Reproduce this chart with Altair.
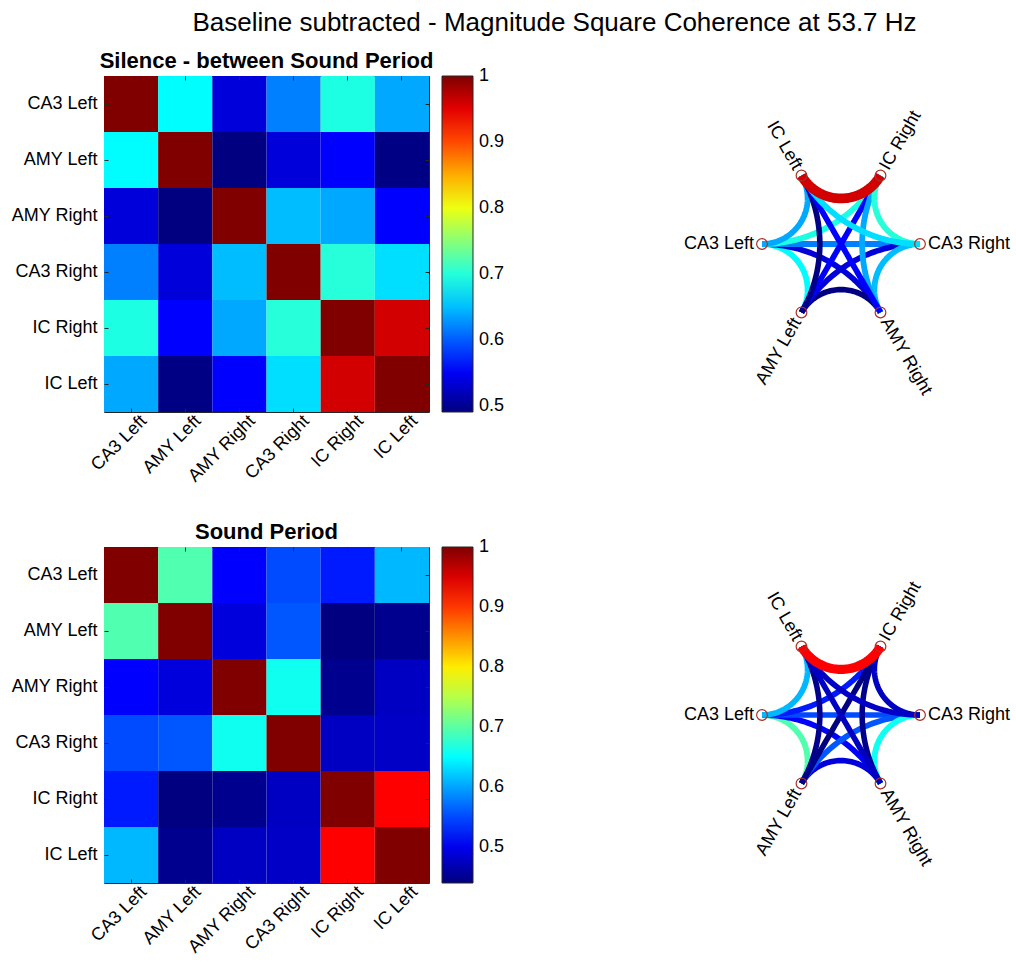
import math

import altair as alt
import pandas as pd

# Recording sites, in the order used for rows/columns of the coherence matrices
REGIONS = ["CA3 Left", "AMY Left", "AMY Right", "CA3 Right", "IC Right", "IC Left"]

# Baseline-subtracted magnitude-squared coherence at 53.7 Hz
SILENCE = [
    [1.000, 0.681, 0.536, 0.618, 0.696, 0.639],
    [0.681, 1.000, 0.491, 0.536, 0.554, 0.493],
    [0.536, 0.491, 1.000, 0.649, 0.639, 0.554],
    [0.618, 0.536, 0.649, 1.000, 0.701, 0.666],
    [0.696, 0.554, 0.639, 0.701, 1.000, 0.959],
    [0.639, 0.493, 0.554, 0.666, 0.959, 1.000],
]
SOUND = [
    [1.000, 0.694, 0.510, 0.551, 0.524, 0.611],
    [0.694, 1.000, 0.491, 0.557, 0.440, 0.448],
    [0.510, 0.491, 1.000, 0.658, 0.448, 0.477],
    [0.551, 0.557, 0.658, 1.000, 0.477, 0.479],
    [0.524, 0.440, 0.448, 0.477, 1.000, 0.930],
    [0.611, 0.448, 0.477, 0.479, 0.930, 1.000],
]

SUPTITLE = "Baseline subtracted - Magnitude Square Coherence at 53.7 Hz"
PANEL_TITLES = ["Silence - between Sound Period", "Sound Period"]
# colorbar labels; the top one sits a hair under the maximum so it stays centred on its tick
CBAR_TICKS = [0.5, 0.6, 0.7, 0.8, 0.9, 0.9999]

# jet colormap, sampled at every 1/8 (it is piecewise linear between these)
JET = ["#000080", "#0000ff", "#0080ff", "#00ffff", "#80ff80",
       "#ffff00", "#ff8000", "#ff0000", "#800000"]

FONT = "Liberation Sans"
AXIS_GRAY = "#262626"
HEAT_W, HEAT_H = 325, 336
NET_SIZE = 336
NODE_PX = 79                       # radius of the node ring, in pixels
EXTENT = (NET_SIZE / 2) / NODE_PX  # half-width of the network panel in ring units
TICK = 4                           # inward tick length of the matrix frame


def jet_scale(matrix):
    vals = [v for row in matrix for v in row]
    lo, hi = min(vals), max(vals)
    stops = [lo + (hi - lo) * k / 8 for k in range(9)]
    return alt.Scale(domain=stops, range=JET, interpolate="rgb", nice=False, zero=False)


def frame_axis(**kw):
    # ticks pulled inside the frame by shifting the axis inwards by their length
    return alt.Axis(offset=-TICK, ticks=True, tickSize=TICK, tickColor=AXIS_GRAY,
                    tickWidth=1, domain=False, labelFont=FONT, labelFontSize=18,
                    labelColor="black", **kw)


def heatmap(matrix, title):
    n = len(REGIONS)
    cells = pd.DataFrame([
        {"row": REGIONS[i], "col": REGIONS[j], "value": matrix[i][j]}
        for i in range(n) for j in range(n)
    ])
    base = alt.Chart(cells).mark_rect()
    filled = base.encode(
        x=alt.X("col:N", sort=REGIONS, title=None, axis=frame_axis(
            orient="bottom", labelAngle=315, labelAlign="right", labelBaseline="middle",
            labelPadding=6, labelOffset=13)),
        y=alt.Y("row:N", sort=REGIONS, title=None, axis=frame_axis(
            orient="left", labelPadding=7)),
        color=alt.Color("value:Q", scale=jet_scale(matrix), legend=alt.Legend(
            title=None, orient="right", direction="vertical", offset=12, padding=0,
            gradientLength=HEAT_H, gradientThickness=31, values=CBAR_TICKS,
            format=".1~f", labelFont=FONT, labelFontSize=18, labelColor="black",
            labelOffset=6, gradientStrokeColor=AXIS_GRAY, gradientStrokeWidth=1,
            labelOverlap=False)),
    )
    # second pass carrying the top and right tick marks only
    frame = base.mark_rect(opacity=0).encode(
        x=alt.X("col:N", sort=REGIONS, title=None, axis=frame_axis(orient="top", labels=False)),
        y=alt.Y("row:N", sort=REGIONS, title=None, axis=frame_axis(orient="right", labels=False)),
    )
    return alt.layer(filled, frame, title=alt.TitleParams(
        title, font=FONT, fontSize=22, fontWeight="bold", color="black",
        anchor="middle", frame="group", offset=3,
    )).resolve_axis(x="independent", y="independent").properties(width=HEAT_W, height=HEAT_H)


def arc(a, b, count=60):
    """Arc of the circle orthogonal to the unit circle joining angles a and b."""
    ux, uy = math.cos(a), math.sin(a)
    vx, vy = math.cos(b), math.sin(b)
    det = ux * vy - uy * vx
    if abs(det) < 1e-9:
        return [(ux + (vx - ux) * s / (count - 1), uy + (vy - uy) * s / (count - 1))
                for s in range(count)]
    x0 = (vy - uy) / det
    y0 = (ux - vx) / det
    r = math.sqrt(x0 * x0 + y0 * y0 - 1)
    t1 = math.atan2(uy - y0, ux - x0)
    t2 = math.atan2(vy - y0, vx - x0)
    dt = (t2 - t1 + math.pi) % (2 * math.pi) - math.pi
    return [(x0 + r * math.cos(t1 + dt * s / (count - 1)),
             y0 + r * math.sin(t1 + dt * s / (count - 1))) for s in range(count)]


def network(matrix):
    n = len(REGIONS)
    theta = [-math.pi + 2 * math.pi * k / n for k in range(n)]

    node_rows = []
    for k, name in enumerate(REGIONS):
        deg = math.degrees(theta[k]) % 360
        if 90 < deg < 270:
            direction, side = deg - 180, "right"
        else:
            direction, side = deg, "left"
        node_rows.append({"name": name, "x": math.cos(theta[k]), "y": math.sin(theta[k]),
                          "angle": (-direction) % 360, "side": side})
    nodes = pd.DataFrame(node_rows)

    edge_rows = []
    idx = 0
    for i in range(n):
        for j in range(i + 1, n):
            for s, (x, y) in enumerate(arc(theta[i], theta[j])):
                edge_rows.append({"edge": f"e{idx:02d}", "step": s, "x": x, "y": y,
                                  "value": matrix[i][j]})
            idx += 1
    edges = pd.DataFrame(edge_rows)

    xs = alt.Scale(domain=[-EXTENT, EXTENT], nice=False, zero=False)
    ys = alt.Scale(domain=[-EXTENT, EXTENT], nice=False, zero=False)
    x = alt.X("x:Q", scale=xs, axis=None)
    y = alt.Y("y:Q", scale=ys, axis=None)

    lines = alt.Chart(edges).mark_line(strokeCap="butt").encode(
        x=x, y=y, detail="edge:N", order="step:Q",
        color=alt.Color("value:Q", scale=jet_scale(matrix), legend=None),
        size=alt.Size("value:Q", scale=alt.Scale(domain=[0.4, 0.75, 1.0], range=[5.5, 6, 10.5]),
                      legend=None),
    )
    rings = alt.Chart(nodes).mark_point(
        shape="circle", filled=False, size=115, stroke="#a8322a", strokeWidth=1.2, opacity=1,
    ).encode(x=x, y=y)
    text_style = dict(baseline="middle", font=FONT, fontSize=18, color="black")
    labels_l = alt.Chart(nodes).transform_filter("datum.side == 'left'").mark_text(
        align="left", dx=8, **text_style,
    ).encode(x=x, y=y, text="name:N", angle=alt.Angle("angle:Q", scale=None))
    labels_r = alt.Chart(nodes).transform_filter("datum.side == 'right'").mark_text(
        align="right", dx=-8, **text_style,
    ).encode(x=x, y=y, text="name:N", angle=alt.Angle("angle:Q", scale=None))

    return alt.layer(lines, rings, labels_l, labels_r).properties(
        width=NET_SIZE, height=NET_SIZE, view=alt.ViewBackground(stroke="transparent"),
    )


panels = []
for matrix, title in zip([SILENCE, SOUND], PANEL_TITLES):
    panels += [heatmap(matrix, title), network(matrix)]

chart = alt.concat(
    *panels, columns=2, spacing={"row": 135, "column": 244}, bounds="flush",
    title=alt.TitleParams(SUPTITLE, font=FONT, fontSize=26, fontWeight="normal",
                          color="black", anchor="middle", offset=13, dx=44),
).resolve_scale(color="independent", size="independent").properties(
    padding={"left": 10, "top": 10, "right": 0, "bottom": 0},
).configure_view(stroke=AXIS_GRAY, strokeWidth=1)

chart.save("out.html", embed_options={"renderer": "svg", "actions": False})
